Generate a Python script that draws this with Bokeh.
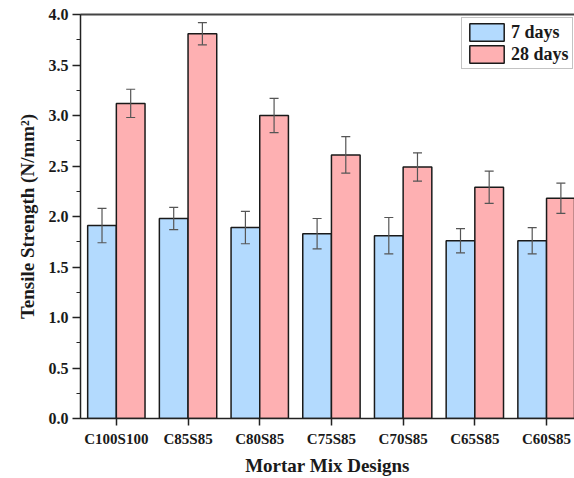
from bokeh.plotting import figure
from bokeh.models import (ColumnDataSource, Range1d, FixedTicker, SingleIntervalTicker,
                          LinearAxis, Whisker, TeeHead, NumeralTickFormatter, Legend, LegendItem)
from bokeh.embed import file_html
from bokeh.resources import INLINE

# Tensile strength of mortar mixes after 7 and 28 days of curing
mixes = ["C100S100", "C85S85", "C80S85", "C75S85", "C70S85", "C65S85", "C60S85"]
strength_7d = [1.91, 1.98, 1.89, 1.83, 1.81, 1.76, 1.76]
error_7d = [0.17, 0.11, 0.16, 0.15, 0.18, 0.12, 0.13]
strength_28d = [3.12, 3.81, 3.00, 2.61, 2.49, 2.29, 2.18]
error_28d = [0.14, 0.11, 0.17, 0.18, 0.14, 0.16, 0.15]
series_labels = ["7 days", "28 days"]

FONT = "Liberation Serif"
BLUE = "#b3dafe"
RED = "#feb0b2"
BAR_W = 0.4

positions = list(range(1, len(mixes) + 1))


def series_source(values, errors, offset):
    return ColumnDataSource(dict(
        x=[p + offset for p in positions],
        top=values,
        lower=[v - e for v, e in zip(values, errors)],
        upper=[v + e for v, e in zip(values, errors)],
    ))


src7 = series_source(strength_7d, error_7d, -BAR_W / 2)
src28 = series_source(strength_28d, error_28d, BAR_W / 2)

p = figure(width=574, height=478,
           x_range=Range1d(0.5, 7.39), y_range=Range1d(0, 4.0),
           output_backend="svg", toolbar_location=None,
           min_border_left=80, min_border_right=0,
           min_border_top=14, min_border_bottom=60)
p.outline_line_color = None
p.xgrid.grid_line_color = None
p.ygrid.grid_line_color = None
p.background_fill_color = "white"

r7 = p.vbar(x="x", top="top", width=BAR_W, source=src7,
            fill_color=BLUE, line_color="#1a1a1a", line_width=1.5)
r28 = p.vbar(x="x", top="top", width=BAR_W, source=src28,
             fill_color=RED, line_color="#1a1a1a", line_width=1.5)

# error bars drawn over the bars
for src in (src7, src28):
    w = Whisker(base="x", lower="lower", upper="upper", source=src,
                level="annotation",
                line_color="#555555", line_width=1.2,
                upper_head=TeeHead(size=9, line_color="#555555", line_width=1.2),
                lower_head=TeeHead(size=9, line_color="#555555", line_width=1.2))
    p.add_layout(w)

# x axis: one tick per mix
xa = p.xaxis[0]
xa.ticker = FixedTicker(ticks=positions)
xa.major_label_overrides = {pos: name for pos, name in zip(positions, mixes)}
xa.major_tick_in = 0
xa.major_tick_out = 7
xa.major_label_standoff = 5
xa.axis_label = "Mortar Mix Designs"
xa.axis_label_standoff = 5

# y axis
ya = p.yaxis[0]
ya.ticker = SingleIntervalTicker(interval=0.5, num_minor_ticks=2)
ya.formatter = NumeralTickFormatter(format="0.0")
ya.major_tick_in = 0
ya.major_tick_out = 8
ya.minor_tick_in = 0
ya.minor_tick_out = 4
ya.major_label_standoff = 4
ya.axis_label = "Tensile Strength (N/mm²)"
ya.axis_label_standoff = 8

for ax in (xa, ya):
    ax.axis_line_color = "#222222"
    ax.axis_line_width = 1.5
    ax.major_tick_line_color = "#222222"
    ax.major_tick_line_width = 1.5
    ax.minor_tick_line_color = "#222222" if ax is ya else None
    ax.minor_tick_line_width = 1.2
    ax.major_label_text_font = FONT
    ax.major_label_text_font_style = "bold"
    ax.major_label_text_color = "#1a1a1a"
    ax.axis_label_text_font = FONT
    ax.axis_label_text_font_style = "bold"
    ax.axis_label_text_font_size = "19px"
    ax.axis_label_text_color = "#1a1a1a"
xa.major_label_text_font_size = "15px"
ya.major_label_text_font_size = "16px"

# top frame line
top = LinearAxis(ticker=FixedTicker(ticks=[]), major_label_text_font_size="0px",
                 axis_line_color="#444444", axis_line_width=2,
                 major_tick_line_color=None, minor_tick_line_color=None)
p.add_layout(top, "above")

legend = Legend(items=[LegendItem(label=series_labels[0], renderers=[r7]),
                       LegendItem(label=series_labels[1], renderers=[r28])],
                location=(381, 349))
legend.glyph_width = 43
legend.glyph_height = 22
legend.label_height = 22
legend.label_standoff = 3
legend.padding = 3
legend.spacing = 0
legend.margin = 0
legend.border_line_color = "#888888"
legend.border_line_width = 1.5
legend.label_text_font = FONT
legend.label_text_font_style = "bold"
legend.label_text_font_size = "18px"
legend.label_text_color = "#1a1a1a"
p.add_layout(legend)

open("out.html", "w").write(file_html(p, INLINE))
